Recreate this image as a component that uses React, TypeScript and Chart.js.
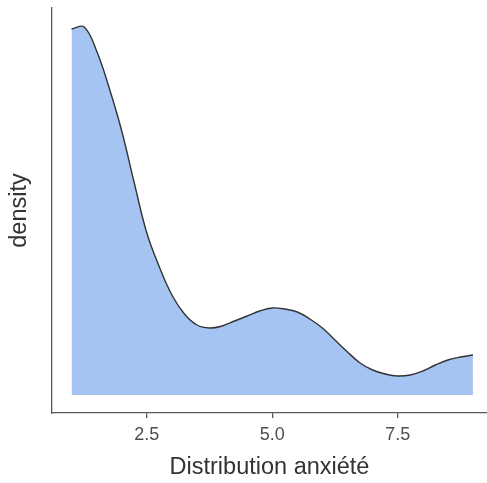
import React, { useEffect, useRef } from "react";
import { Chart, registerables } from "chart.js";

Chart.register(...registerables);

// Density estimate (x = anxiety score, y = density, arbitrary units)
const xValues = [
  1.0, 1.25, 1.5, 1.75, 2.0, 2.25, 2.5, 2.75, 3.0, 3.25, 3.5, 3.75, 4.0, 4.25, 4.5, 4.75, 5.0,
  5.25, 5.5, 5.75, 6.0, 6.25, 6.5, 6.75, 7.0, 7.25, 7.5, 7.75, 8.0, 8.25, 8.5, 8.75, 9.0,
];
const densityValues = [
  366, 368, 344, 307, 264, 212, 162, 128, 100, 81, 70, 67, 69, 74, 79, 84, 87,
  86, 83, 76, 67, 55, 43, 32, 25, 21, 19, 20, 24, 30, 35, 38, 40,
];
const xTicks = [2.5, 5.0, 7.5];
const xTitle = "Distribution anxiété";
const yTitle = "density";

export default function App() {
  const ref = useRef<HTMLCanvasElement | null>(null);

  useEffect(() => {
    if (!ref.current) return;
    const axisColor = "#5a5a5a";
    const chart = new Chart(ref.current, {
      type: "line",
      data: {
        datasets: [
          {
            data: xValues.map((x, i) => ({ x, y: densityValues[i] })),
            borderColor: "#333333",
            borderWidth: 1.4,
            backgroundColor: "#a5c4f1",
            fill: "origin",
            pointRadius: 0,
            tension: 0.4,
          },
        ],
      },
      options: {
        responsive: false,
        animation: false,
        layout: { padding: { top: 8, right: 0, left: 0, bottom: 0 } },
        plugins: { legend: { display: false }, tooltip: { enabled: false } },
        scales: {
          x: {
            type: "linear",
            min: 0.61,
            max: 9.28,
            afterBuildTicks: (s: any) => {
              s.ticks = xTicks.map((v) => ({ value: v }));
            },
            afterFit: (s: any) => {
              s.height = 70;
            },
            ticks: {
              callback: (v: any) => Number(v).toFixed(1),
              color: "#4d4d4d",
              font: { family: "Liberation Sans", size: 18 },
              padding: 6,
              maxRotation: 0,
            },
            grid: {
              display: true,
              drawOnChartArea: false,
              drawTicks: true,
              tickLength: 5,
              color: axisColor,
              lineWidth: 1.3,
            },
            border: { display: true, color: axisColor, width: 1.3 },
            title: {
              display: true,
              text: xTitle,
              color: "#333333",
              font: { family: "Liberation Sans", size: 23.5 },
              padding: { top: 0, bottom: 1 },
            },
          },
          y: {
            type: "linear",
            min: -18,
            max: 387,
            afterFit: (s: any) => {
              s.width = 52;
            },
            ticks: { display: false },
            grid: { display: true, drawOnChartArea: false, drawTicks: false },
            border: { display: true, color: axisColor, width: 1.3 },
            title: {
              display: true,
              text: yTitle,
              color: "#333333",
              font: { family: "Liberation Sans", size: 23.5 },
              padding: { top: 5, bottom: 0 },
            },
          },
        },
      },
    } as any);
    return () => chart.destroy();
  }, []);

  return (
    <div style={{ position: "fixed", left: 0, top: 0, width: 487, height: 483, background: "#ffffff" }}>
      <canvas ref={ref} width={487} height={483} style={{ display: "block" }} />
    </div>
  );
}
